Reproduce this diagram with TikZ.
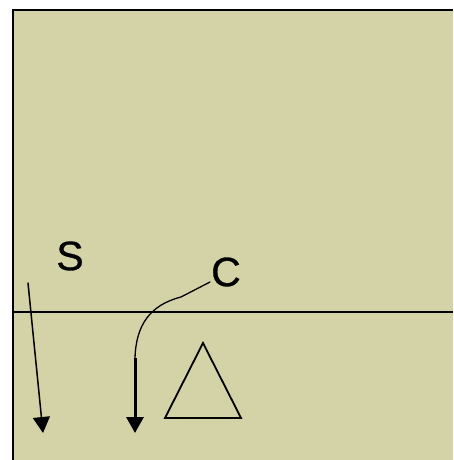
\documentclass[tikz,border=0pt]{standalone}
\usepackage{fontspec}
\setmainfont{Liberation Sans}
\usepackage{tikz}
\usetikzlibrary{arrows, arrows.meta}
\definecolor{sand}{RGB}{212,211,167}
\tikzset{
	lbl/.style={inner sep=0pt, font=\fontsize{41}{44}\selectfont\addfontfeature{FakeBold=0.8}},
	pfeil/.style={-{Triangle[width=17pt,length=16pt]}}
}

\begin{document}
\begin{tikzpicture}[line cap=round,line join=round,x=1pt,y=-1pt]
		\useasboundingbox (0,0) rectangle (453,460);

		% Feld
		\fill[sand] (13,10) rectangle (453,460);
		\draw[line width=2pt, line cap=butt] (13,460) -- (13,10);
		\draw[line width=2.5pt, line cap=butt] (12,10) -- (453,10);
		\draw[line width=1.3pt, line cap=butt] (13,312) -- (453,312);

		% Beschriftungen
		\node[lbl] (s) at (70,256) {S};
		\node[lbl] (c) at (226,272) {C};

		\coordinate (sA) at (28,283);
		\coordinate (sE) at (43,433);
		\coordinate (cA) at (210,282);
		\coordinate (cK) at (181,297);
		\coordinate (cM) at (135,358);
		\coordinate (cE) at (135,433);

		% Pfeile
		\draw[line width=1.5pt, pfeil] (sA) -- (sE);
		\draw[line width=1.3pt] (cA) -- (cK) .. controls (150,305) and (136,325) .. (cM);
		\draw[line width=3pt, line cap=butt, pfeil] (cM) -- (cE);

		% Dreieck
		\draw[line width=1.8pt, line join=miter] (203,343) -- (241,418) -- (165,418) -- cycle;
	\end{tikzpicture}
\end{document}
